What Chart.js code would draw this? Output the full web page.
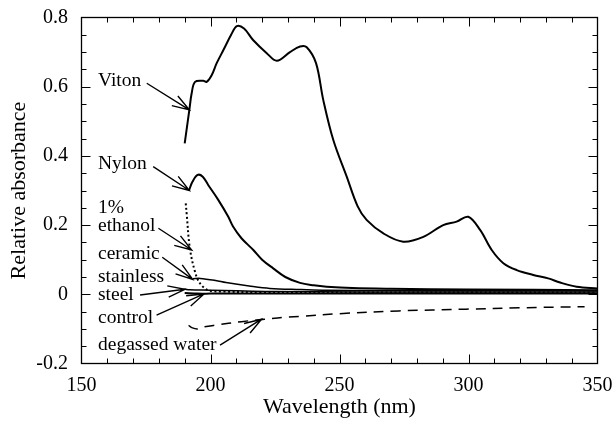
<!DOCTYPE html>
<html>
<head>
<meta charset="utf-8">
<script src="https://cdn.jsdelivr.net/npm/chart.js@4.4.0/dist/chart.umd.min.js"></script>
<style>
  html, body { margin: 0; padding: 0; background: #fff; }
  #wrap { width: 615px; height: 426px; }
</style>
</head>
<body>
<div id="wrap"><canvas id="myChart"></canvas></div>
<script>
// ---------------- data ----------------
const vitonNm  = [190, 191.8, 192.7, 194, 197.2, 198.5, 200.5, 202.4, 205, 208, 210.2, 213, 216.5, 221.8, 225.7, 230.8, 234.7, 237.3, 240.9, 243.7, 247.6, 252.8, 257, 260.5, 267, 274.7, 282.5, 290.2, 295.4, 299.9, 304.5, 309, 313.5, 318.7, 325.1, 330.9, 335.5, 341.9, 350];
const vitonAbs = [0.436, 0.533, 0.581, 0.614, 0.617, 0.614, 0.634, 0.668, 0.706, 0.750, 0.775, 0.768, 0.735, 0.697, 0.675, 0.700, 0.716, 0.714, 0.668, 0.562, 0.446, 0.340, 0.255, 0.215, 0.176, 0.152, 0.166, 0.200, 0.210, 0.224, 0.186, 0.128, 0.090, 0.070, 0.056, 0.046, 0.034, 0.022, 0.017];

const nylonNm  = [191.7, 193, 195, 197, 199.1, 203, 206.9, 208.8, 212, 216.6, 220, 224.3, 229, 234.7, 240, 245, 255, 270, 300, 350];
const nylonAbs = [0.301, 0.325, 0.345, 0.340, 0.316, 0.273, 0.224, 0.195, 0.162, 0.128, 0.100, 0.075, 0.050, 0.033, 0.026, 0.022, 0.018, 0.016, 0.014, 0.012];

const ethanolNm  = [190.4, 190.8, 192, 194, 195.9, 199.1, 205, 220, 260, 300, 350];
const ethanolAbs = [0.263, 0.229, 0.133, 0.065, 0.032, 0.012, 0.008, 0.006, 0.005, 0.005, 0.005];

const ceramicNm  = [193.2, 196, 202, 206, 215, 223, 235, 245, 270, 300, 350];
const ceramicAbs = [0.045, 0.046, 0.040, 0.034, 0.024, 0.017, 0.014, 0.012, 0.011, 0.010, 0.010];

const steelNm  = [190, 192, 200, 210, 223, 260, 300, 350];
const steelAbs = [0.015, 0.013, 0.012, 0.010, 0.008, 0.007, 0.007, 0.007];

const controlNm  = [190, 195, 200, 230, 300, 350];
const controlAbs = [0.004, 0.002, 0.002, 0.002, 0.002, 0.002];

const waterNm  = [191.5, 193, 195, 197, 202, 212, 221, 229, 235, 250, 273, 299, 320, 345];
const waterAbs = [-0.090, -0.097, -0.100, -0.095, -0.089, -0.079, -0.072, -0.066, -0.064, -0.056, -0.048, -0.043, -0.039, -0.036];

// labels and arrows, in data units (wavelength, absorbance)
const labelText = ['Viton', 'Nylon', '1%', 'ethanol', 'ceramic', 'stainless', 'steel', 'control', 'degassed water'];
const labelNm   = [156.4, 156.4, 156.4, 156.4, 156.4, 156.4, 156.4, 156.4, 156.4];
const labelAbs  = [0.602, 0.362, 0.236, 0.184, 0.101, 0.036, -0.016, -0.084, -0.161];

const arrowFrom = [[175.3, 0.61], [177.8, 0.369], [179.8, 0.191], [181.3, 0.107], [172.7, -0.002], [179.1, -0.06], [203.7, -0.147]];
const arrowTo   = [[191.8, 0.533], [191.8, 0.30], [192.7, 0.128], [193.1, 0.043], [190.1, 0.0145], [197.5, 0.001], [219.8, -0.072]];

const FONT = '"Liberation Serif", "Times New Roman", serif';

function pts(xs, ys) {
  return xs.map((v, i) => ({ x: v, y: ys[i] }));
}

function line(label, xs, ys, width, dash) {
  return {
    label: label,
    data: pts(xs, ys),
    borderColor: '#000',
    borderWidth: width,
    borderDash: dash || [],
    pointRadius: 0,
    fill: false,
    tension: 0.35
  };
}

// box + inward ticks on all four sides
const frameTicks = {
  id: 'frameTicks',
  afterDraw(chart) {
    const { ctx, chartArea: a, scales: { x, y } } = chart;
    ctx.save();
    ctx.strokeStyle = '#000';
    ctx.lineWidth = 1.3;
    ctx.strokeRect(a.left, a.top, a.right - a.left, a.bottom - a.top);
    ctx.lineWidth = 1;
    ctx.beginPath();
    for (let v = 160; v < 350; v += 10) {
      const px = Math.round(x.getPixelForValue(v)) + 0.5;
      const len = v % 50 === 0 ? 9 : 5;
      ctx.moveTo(px, a.bottom); ctx.lineTo(px, a.bottom - len);
      ctx.moveTo(px, a.top); ctx.lineTo(px, a.top + len);
    }
    for (let k = -3; k < 16; k++) {
      const v = k * 0.05;
      const py = Math.round(y.getPixelForValue(v)) + 0.5;
      const len = k % 4 === 0 ? 9 : 5;
      ctx.moveTo(a.left, py); ctx.lineTo(a.left + len, py);
      ctx.moveTo(a.right, py); ctx.lineTo(a.right - len, py);
    }
    ctx.stroke();
    ctx.restore();
  }
};

// text labels with open arrows
const labels = {
  id: 'labels',
  afterDatasetsDraw(chart) {
    const { ctx, scales: { x, y } } = chart;
    ctx.save();
    ctx.fillStyle = '#000';
    ctx.strokeStyle = '#000';
    ctx.font = '19.5px ' + FONT;
    ctx.textBaseline = 'alphabetic';
    ctx.textAlign = 'left';
    labelText.forEach((t, i) => {
      ctx.fillText(t, x.getPixelForValue(labelNm[i]), y.getPixelForValue(labelAbs[i]));
    });
    ctx.lineWidth = 1.4;
    arrowFrom.forEach((f, i) => {
      const x0 = x.getPixelForValue(f[0]), y0 = y.getPixelForValue(f[1]);
      const x1 = x.getPixelForValue(arrowTo[i][0]), y1 = y.getPixelForValue(arrowTo[i][1]);
      const ang = Math.atan2(y0 - y1, x0 - x1);
      const head = 18, spread = 0.32;
      ctx.beginPath();
      ctx.moveTo(x0, y0); ctx.lineTo(x1, y1);
      ctx.moveTo(x1 + head * Math.cos(ang - spread), y1 + head * Math.sin(ang - spread));
      ctx.lineTo(x1, y1);
      ctx.lineTo(x1 + head * Math.cos(ang + spread), y1 + head * Math.sin(ang + spread));
      ctx.stroke();
    });
    ctx.restore();
  }
};

new Chart(document.getElementById('myChart').getContext('2d'), {
  type: 'line',
  data: {
    datasets: [
      line('Viton', vitonNm, vitonAbs, 2),
      line('Nylon', nylonNm, nylonAbs, 2),
      line('1% ethanol', ethanolNm, ethanolAbs, 2, [2, 2.5]),
      line('ceramic', ceramicNm, ceramicAbs, 1.5),
      line('stainless steel', steelNm, steelAbs, 1.5),
      line('control', controlNm, controlAbs, 2),
      line('degassed water', waterNm, waterAbs, 1.5, [10, 7])
    ]
  },
  options: {
    responsive: true,
    maintainAspectRatio: false,
    animation: false,
    layout: { padding: { top: 17.5, right: 17.5, left: 0, bottom: 0 } },
    plugins: { legend: { display: false }, tooltip: { enabled: false } },
    scales: {
      x: {
        type: 'linear',
        min: 150,
        max: 350,
        grid: { display: false, drawTicks: false },
        border: { display: false },
        afterFit: s => { s.height = 62.5; s.paddingLeft = 0; s.paddingRight = 0; },
        ticks: {
          stepSize: 50,
          padding: 10,
          color: '#000',
          font: { family: FONT, size: 20 },
          maxRotation: 0
        },
        title: {
          display: true,
          text: 'Wavelength (nm)',
          color: '#000',
          font: { family: FONT, size: 22 },
          padding: { top: 0, bottom: 6 }
        }
      },
      y: {
        min: -0.2,
        max: 0.8,
        grid: { display: false, drawTicks: false },
        border: { display: false },
        afterFit: s => { s.width = 81.5; s.paddingTop = 0; s.paddingBottom = 0; },
        ticks: {
          stepSize: 0.2,
          padding: 13.5,
          color: '#000',
          font: { family: FONT, size: 20 },
          callback: v => Math.abs(v) < 1e-9 ? '0' : v.toFixed(1)
        },
        title: {
          display: true,
          text: 'Relative absorbance',
          color: '#000',
          font: { family: FONT, size: 22 },
          padding: { top: 6, bottom: 0 }
        }
      }
    }
  },
  plugins: [frameTicks, labels]
});
</script>
</body>
</html>
